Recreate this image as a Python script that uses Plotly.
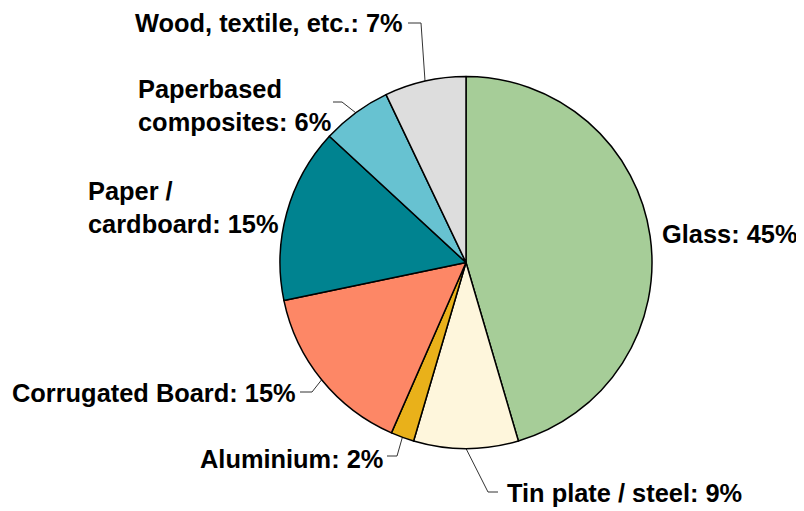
import math
import plotly.graph_objects as go

# ---- data ----
categories = ["Glass", "Tin plate / steel", "Aluminium", "Corrugated Board",
              "Paper / cardboard", "Paperbased composites", "Wood, textile, etc."]
shares = [45, 9, 2, 15, 15, 6, 7]
label_texts = ["Glass: 45%", "Tin plate / steel: 9%", "Aluminium: 2%",
               "Corrugated Board: 15%", "Paper /<br>cardboard: 15%",
               "Paperbased<br>composites: 6%", "Wood, textile, etc.: 7%"]

# ---- styles / layout ----
colors = ["#a6cd98", "#fef6dc", "#e9b11a", "#fd8766", "#008390", "#67c2d1", "#dddddd"]
WIN_W, WIN_H = 804, 511
PAGE_OFF = 8  # default page margin of the html body
W, H = WIN_W - PAGE_OFF, WIN_H - PAGE_OFF
CX, CY, R = 466, 262.5, 186
FONT = dict(family="Liberation Sans, Arial, Helvetica, sans-serif", size=25.4, color="#000000")

# label placement (window pixels): (text x, text y, xanchor, elbow x, elbow y, line end x)
label_layout = {
    "Glass": (660, 234, "left", None, None, None),
    "Tin plate / steel": (505, 493, "left", 488, 492, 498),
    "Aluminium": (385, 459, "right", 397, 456, 387),
    "Corrugated Board": (298, 393, "right", 312, 392, 300),
    "Paper / cardboard": (281, 207, "right", None, None, None),
    "Paperbased composites": (333, 105, "right", 342, 102, 333),
    "Wood, textile, etc.": (405, 23, "right", 421, 23, 408),
}

fig = go.Figure()
cxf, cyf = CX - PAGE_OFF, CY - PAGE_OFF
fig.add_trace(go.Pie(
    labels=categories, values=shares, sort=False, direction="clockwise", rotation=0,
    marker=dict(colors=colors, line=dict(color="#000000", width=1.5)),
    textinfo="none", hoverinfo="skip", showlegend=False,
    domain=dict(x=[(cxf - R) / W, (cxf + R) / W],
                y=[(H - cyf - R) / H, (H - cyf + R) / H]),
))

total = sum(shares)
cum = 0.0
annotations = []
for cat, val, txt in zip(categories, shares, label_texts):
    mid = (cum + val / 2) / total * 2 * math.pi
    cum += val
    ex = CX + R * math.sin(mid)
    ey = CY - R * math.cos(mid)
    tx, ty, anchor, bx, by, endx = label_layout[cat]
    if bx is not None:
        fig.add_trace(go.Scatter(
            x=[ex, bx, endx], y=[ey, by, by], mode="lines",
            line=dict(color="#333333", width=1), hoverinfo="skip", showlegend=False,
            xaxis="x", yaxis="y"))
    annotations.append(dict(
        x=tx, y=ty, xref="x", yref="y", text="<b>" + txt + "</b>", showarrow=False,
        xanchor=anchor, yanchor="middle", align="left", font=FONT))

fig.update_layout(
    width=W, height=H, margin=dict(l=0, r=0, t=0, b=0),
    paper_bgcolor="#ffffff", plot_bgcolor="rgba(0,0,0,0)",
    xaxis=dict(range=[PAGE_OFF, WIN_W], visible=False, fixedrange=True),
    yaxis=dict(range=[WIN_H, PAGE_OFF], visible=False, fixedrange=True),
    annotations=annotations, showlegend=False,
)
fig.write_html("out.html")
